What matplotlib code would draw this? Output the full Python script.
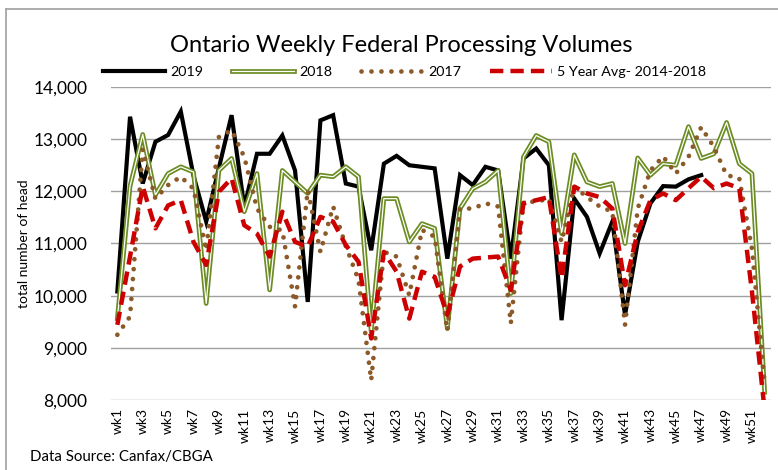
import numpy as np
import matplotlib
matplotlib.use("Agg")
import matplotlib.pyplot as plt
import matplotlib.patheffects as pe
from matplotlib.lines import Line2D

plt.rcParams['font.family'] = ['Lato', 'DejaVu Sans']

# weekly federal processing volumes (head)
weeks = [f"wk{i}" for i in range(1, 53)]

vol_2019 = [10080, 13430, 12150, 12950, 13080, 13530, 12300, 11420, 12450, 13460,
            11700, 12720, 12720, 13070, 12400, 9880, 13360, 13460, 12150, 12090,
            10870, 12530, 12680, 12500, 12470, 12440, 10710, 12310, 12120, 12470,
            12400, 10710, 12630, 12820, 12500, 9530, 11860, 11510, 10810, 11420,
            9630, 11030, 11770, 12100, 12090, 12230, 12310]

vol_2018 = [9560, 12100, 13090, 11930, 12340, 12470, 12370, 9850, 12400, 12630,
            11610, 12340, 10110, 12400, 12180, 11960, 12310, 12280, 12470, 12280,
            9310, 11860, 11860, 11030, 11380, 11290, 9370, 11670, 12050, 12180,
            12400, 10040, 12660, 13070, 12950, 11190, 12700, 12180, 12090, 12150,
            11000, 12640, 12310, 12530, 12500, 13240, 12630, 12720, 13320, 12530,
            12340, 8150]

vol_2017 = [9250, 9600, 12800, 11860, 12120, 12280, 12050, 10870, 13040, 13170,
            12660, 11670, 11320, 11250, 9790, 12020, 10840, 11710, 10950, 10300,
            8380, 10840, 10750, 10010, 11260, 11130, 9330, 11670, 11670, 11770,
            11710, 9470, 11800, 11800, 11860, 11030, 12090, 11890, 11710, 11610,
            9440, 11670, 12400, 12670, 12340, 12660, 13230, 12850, 12310, 12250,
            10900, 8300]

avg_5yr = [9440, 10750, 12090, 11290, 11730, 11830, 11030, 10590, 11990, 12250,
           11350, 11190, 10750, 11610, 11030, 10940, 11510, 11420, 10970, 10650,
           9180, 10840, 10460, 9560, 10460, 10360, 9630, 10560, 10710, 10730,
           10750, 10110, 11770, 11830, 11890, 10330, 12090, 11960, 11890, 11670,
           10200, 11220, 11830, 11960, 11830, 12060, 12280, 12060, 12150, 12060,
           10080, 7800]

GREEN = '#6b8c22'
BROWN = '#8c5a28'
RED = '#cc0000'

fig = plt.figure(figsize=(7.78, 4.70), dpi=100)
ax = fig.add_axes([111 / 778, 1 - 400 / 470, 660 / 778, 313 / 470])

x19 = np.arange(1, len(vol_2019) + 1)
x = np.arange(1, 53)

ax.plot(x19, vol_2019, color='black', lw=3.0, label='2019', zorder=3,
        solid_joinstyle='miter')
ax.plot(x, vol_2018, color='white', lw=0.9, label='2018', zorder=4,
        path_effects=[pe.Stroke(linewidth=3.4, foreground=GREEN), pe.Normal()])
ax.plot(x, vol_2017, color=BROWN, lw=3.4, ls=(0, (0.01, 2.1)),
        dash_capstyle='round', label='2017', zorder=5)
ax.plot(x, avg_5yr, color=RED, lw=3.2, ls=(0, (3.0, 1.6)),
        label='5 Year Avg- 2014-2018', zorder=6)

ax.set_xlim(0.5, 52.5)
ax.set_ylim(8000, 14000)
ax.set_yticks(range(8000, 14001, 1000))
ax.yaxis.set_major_formatter(matplotlib.ticker.FuncFormatter(lambda v, p: f"{int(v):,}"))
ax.set_xticks(x[::2])
ax.set_xticklabels(weeks[::2], rotation=90, fontsize=10)
ax.tick_params(axis='y', labelsize=12.5, length=0, pad=17)
ax.tick_params(axis='x', length=0, pad=6)
ax.grid(axis='y', color='#a0a0a0', lw=1.0)
ax.set_axisbelow(True)
for s in ax.spines.values():
    s.set_visible(False)

ax.set_ylabel('total number of head', fontsize=10)
ax.yaxis.set_label_coords(-0.122, 0.5)

fig.text(401 / 778, 1 - 45 / 470, 'Ontario Weekly Federal Processing Volumes',
         ha='center', va='center', fontsize=17)
fig.text(30 / 778, 1 - 457 / 470, 'Data Source: Canfax/CBGA',
         ha='left', va='center', fontsize=10.8)

handles, labels = ax.get_legend_handles_labels()
fig.legend(handles, labels, loc='center', bbox_to_anchor=(405 / 778, 1 - 72 / 470),
           ncol=4, frameon=False, fontsize=10.3, handlelength=4.3,
           handletextpad=0.4, columnspacing=2.0)

# outer chart border
fig.add_artist(Line2D([6 / 778, 6 / 778], [0, 1 - 9 / 470], color='#a0a0a0', lw=1.2))
fig.add_artist(Line2D([6 / 778, 1], [1 - 9 / 470, 1 - 9 / 470], color='#a0a0a0', lw=1.2))

fig.savefig('out.png', dpi=100)
